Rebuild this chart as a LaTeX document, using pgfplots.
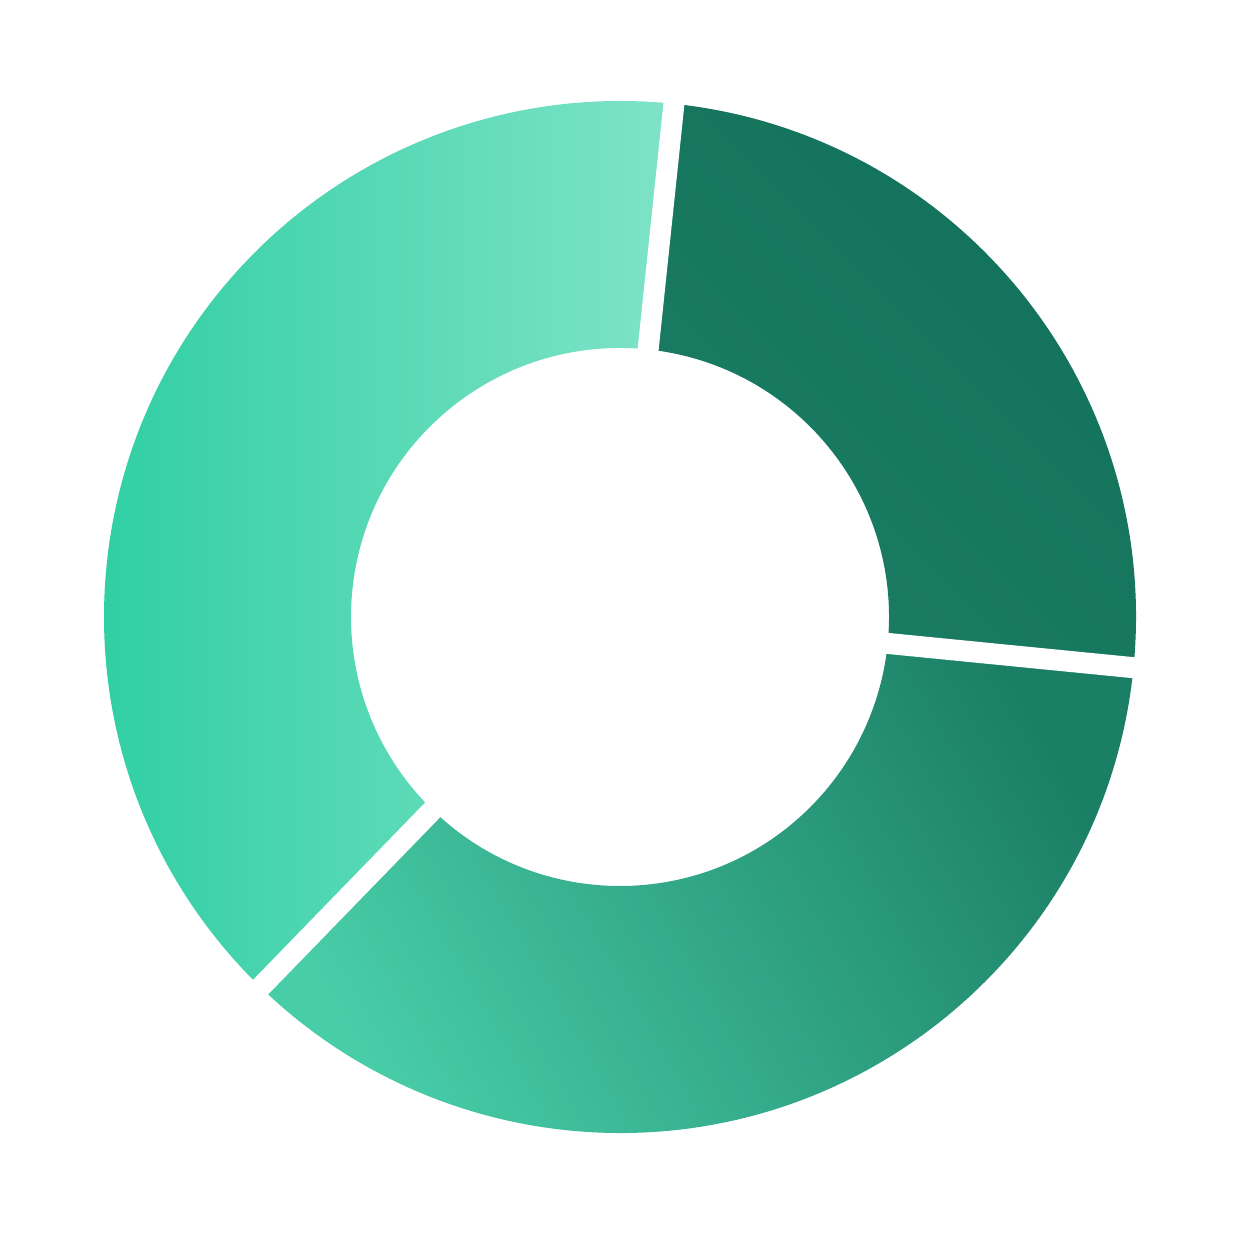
\documentclass[border=0pt]{standalone}
\usepackage{pgfplots}
\usepackage{pgfplotstable}
\pgfplotsset{compat=1.18}

\definecolor{lightA}{HTML}{2ACDA1}
\definecolor{lightB}{HTML}{7FE3C8}
\definecolor{midA}{HTML}{48CDA9}
\definecolor{midB}{HTML}{1B7F65}
\definecolor{darkA}{HTML}{1B7E64}
\definecolor{darkB}{HTML}{12705A}

% shares in percent, clockwise from the top gap
\pgfplotstableread{
share
24.9
35.7
39.4
}\shares

\begin{document}
\begin{tikzpicture}
\pgfplotstablegetelem{0}{share}\of\shares \let\sA\pgfplotsretval
\pgfplotstablegetelem{1}{share}\of\shares \let\sB\pgfplotsretval
\pgfplotstablegetelem{2}{share}\of\shares \let\sC\pgfplotsretval
\pgfmathsetmacro\aO{84}
\pgfmathsetmacro\aA{\aO-3.6*\sA}
\pgfmathsetmacro\aB{\aA-3.6*\sB}
\pgfmathsetmacro\aC{\aB-3.6*\sC}
\def\Ro{103.2pt}
\def\Ri{53.8pt}
\def\Rd{49.4pt}
\begin{axis}[
    hide axis,
    disabledatascaling,
    scale only axis,
    clip=false,
    x=0.2pt, y=0.2pt,
    xmin=-620, xmax=630,
    ymin=-633, ymax=617,
]
  \path (axis cs:-620,-633) rectangle (axis cs:630,617);
  % dark segment
  \shade[top color=darkB, bottom color=darkA, shading angle=-45]
    (axis cs:0,0) ++(\aO:\Ro) arc[start angle=\aO, end angle=\aA, radius=\Ro]
    -- ++(\aA+180:\Rd) arc[start angle=\aA, end angle=\aO, radius=\Ri] -- cycle;
  % middle segment
  \shade[top color=midB, bottom color=midA, shading angle=-60]
    (axis cs:0,0) ++(\aA:\Ro) arc[start angle=\aA, end angle=\aB, radius=\Ro]
    -- ++(\aB+180:\Rd) arc[start angle=\aB, end angle=\aA, radius=\Ri] -- cycle;
  % light segment
  \shade[left color=lightA, right color=lightB]
    (axis cs:0,0) ++(\aB:\Ro) arc[start angle=\aB, end angle=\aC, radius=\Ro]
    -- ++(\aC+180:\Rd) arc[start angle=\aC, end angle=\aB, radius=\Ri] -- cycle;
  % white gaps
  \draw[white, line width=4.2pt] (axis cs:0,0) -- ++(\aO:108pt);
  \draw[white, line width=4.2pt] (axis cs:0,0) -- ++(\aA:108pt);
  \draw[white, line width=4.2pt] (axis cs:0,0) -- ++(\aB:108pt);
\end{axis}
\end{tikzpicture}
\end{document}
